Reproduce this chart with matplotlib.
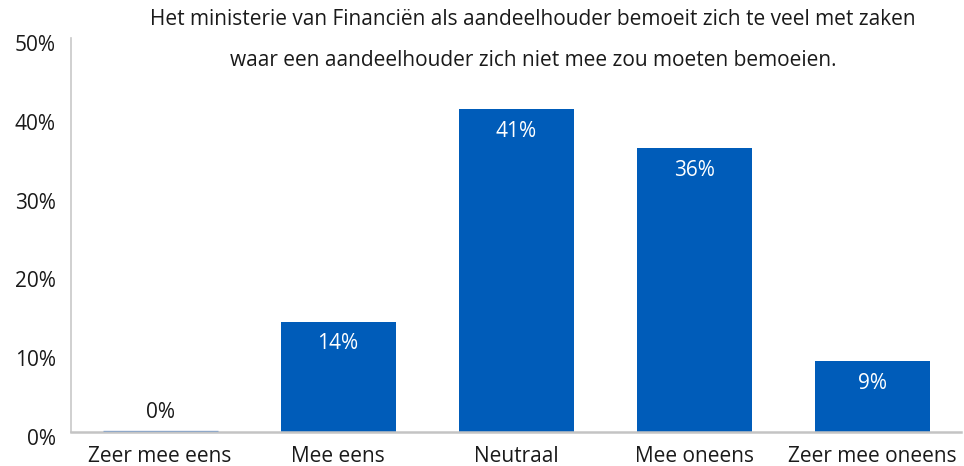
import matplotlib
matplotlib.use("Agg")
import matplotlib.pyplot as plt
import matplotlib.transforms as mtransforms

# gegevens
categorieen = ['Zeer mee eens', 'Mee eens', 'Neutraal', 'Mee oneens', 'Zeer mee oneens']
percentages = [0, 14, 41, 36, 9]
labels = ['0%', '14%', '41%', '36%', '9%']
yticks = [0, 10, 20, 30, 40, 50]

titel = ('Het ministerie van Financiën als aandeelhouder bemoeit zich te veel met zaken\n'
         'waar een aandeelhouder zich niet mee zou moeten bemoeien.')

plt.rcParams['font.family'] = ['Open Sans', 'DejaVu Sans']
tekstkleur = '#1a1a1a'
blauw = '#005cb9'

fig = plt.figure(figsize=(9.64, 4.66), dpi=100)
ax = fig.add_axes([0.0737, 0.073, 0.9233, 0.845])

x = range(len(categorieen))
bars = ax.bar(x, percentages, width=0.646, color=blauw, zorder=2)

# nul-balk als dunne lijn
ax.hlines(0.08, -0.323, 0.323, color='#8fa8c8', lw=1, zorder=3)

for i, (v, lab) in enumerate(zip(percentages, labels)):
    if v < 3:
        ax.annotate(lab, (i, v), xytext=(0, 14), textcoords='offset points',
                    ha='center', va='center', fontsize=15, color=tekstkleur)
    else:
        ax.annotate(lab, (i, v), xytext=(0, -16), textcoords='offset points',
                    ha='center', va='center', fontsize=15, color='white')

ax.set_xlim(-0.5, len(categorieen) - 0.5)
ax.set_ylim(0, 50)
ax.set_yticks(yticks)
ax.set_yticklabels([f'{t}%' for t in yticks])
ax.set_xticks(list(x))
ax.set_xticklabels(categorieen)

ax.tick_params(axis='y', length=0, pad=11, labelsize=15, labelcolor=tekstkleur)
ax.tick_params(axis='x', length=0, pad=10, labelsize=15, labelcolor=tekstkleur)

# y-labels iets naar beneden
offset = mtransforms.ScaledTranslation(0, -5 / 100, fig.dpi_scale_trans)
for t in ax.get_yticklabels():
    t.set_transform(t.get_transform() + offset)

for s in ['top', 'right']:
    ax.spines[s].set_visible(False)
ax.spines['left'].set_color('#c8c8c8')
ax.spines['left'].set_linewidth(1.2)
ax.spines['bottom'].set_color('#c4c4c4')
ax.spines['bottom'].set_linewidth(1.8)

fig.text(0.553, 0.914, titel, ha='center', va='center', fontsize=15,
         color=tekstkleur, linespacing=2.2)

fig.savefig('out.png', dpi=100)
